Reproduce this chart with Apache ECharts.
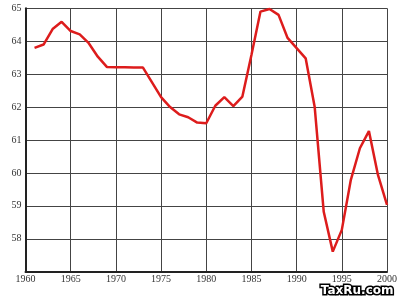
<!DOCTYPE html>
<html>
<head>
<meta charset="utf-8">
<script src="https://cdn.jsdelivr.net/npm/echarts@6/dist/echarts.min.js"></script>
<style>html,body{margin:0;padding:0;background:#fff}#c{width:400px;height:300px}</style>
</head>
<body>
<div id="c"></div>
<script>
const years = [1961,1962,1963,1964,1965,1966,1967,1968,1969,1970,1971,1972,1973,1974,1975,1976,1977,1978,1979,1980,1981,1982,1983,1984,1985,1986,1987,1988,1989,1990,1991,1992,1993,1994,1995,1996,1997,1998,1999,2000];
const values = [63.8,63.9,64.37,64.59,64.31,64.21,63.94,63.53,63.22,63.21,63.21,63.2,63.2,62.75,62.3,62.0,61.78,61.69,61.53,61.51,62.04,62.3,62.03,62.32,63.58,64.9,64.98,64.8,64.1,63.79,63.48,62.0,58.82,57.61,58.27,59.79,60.75,61.27,59.94,59.03];
const xTicks = [1960,1965,1970,1975,1980,1985,1990,1995,2000];
const yTicks = [58,59,60,61,62,63,64,65];
const watermark = "TaxRu.com";

const chart = echarts.init(document.getElementById('c'), null, {renderer:'canvas'});
const font = "'Liberation Serif', 'DejaVu Serif', serif";
chart.setOption({
  animation:false,
  backgroundColor:'#fff',
  grid:{left:25.5, right:11.5, top:8.3, bottom:28.3, containLabel:false},
  xAxis:{
    type:'value', min:1960, max:2000, interval:5,
    axisLine:{show:true, onZero:false, lineStyle:{color:'#222', width:2}},
    axisTick:{show:false},
    splitLine:{show:true, lineStyle:{color:'#444', width:1}},
    axisLabel:{color:'#333', fontFamily:font, fontSize:10, margin:3,
      formatter:v=> xTicks.includes(v) ? String(v) : ''}
  },
  yAxis:{
    type:'value', min:57, max:65, interval:1,
    axisLine:{show:true, onZero:false, lineStyle:{color:'#222', width:2}},
    axisTick:{show:false},
    splitLine:{show:true, lineStyle:{color:'#444', width:1}},
    axisLabel:{color:'#333', fontFamily:font, fontSize:10, margin:4,
      formatter:v=> yTicks.includes(v) ? String(v) : ''}
  },
  series:[{
    type:'line',
    data: years.map((y,i)=>[y, values[i]]),
    showSymbol:false,
    lineStyle:{color:'#dd1c1c', width:2.5},
    z:5
  }],
  graphic:[{
    type:'text', right:5, bottom:2, z:100,
    style:{text:watermark, fill:'#fff', stroke:'#000', lineWidth:3,
      font:"bold 12px 'DejaVu Sans', sans-serif"}
  }]
});
</script>
</body>
</html>
